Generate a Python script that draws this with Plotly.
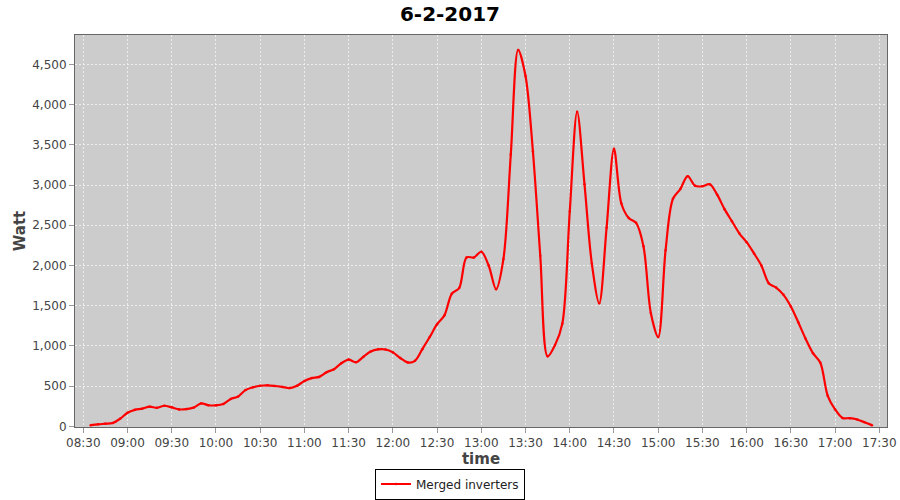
import plotly.graph_objects as go

DATE = "2017-02-06"
times = [
    "08:35", "08:40", "08:45", "08:50", "08:55", "09:00", "09:05", "09:10", "09:15", "09:20",
    "09:25", "09:30", "09:35", "09:40", "09:45", "09:50", "09:55", "10:00", "10:05", "10:10",
    "10:15", "10:20", "10:25", "10:30", "10:35", "10:40", "10:45", "10:50", "10:55", "11:00",
    "11:05", "11:10", "11:15", "11:20", "11:25", "11:30", "11:35", "11:40", "11:45", "11:50",
    "11:55", "12:00", "12:05", "12:10", "12:15", "12:20", "12:25", "12:30", "12:35", "12:40",
    "12:45", "12:50", "12:55", "13:00", "13:05", "13:10", "13:15", "13:20", "13:25", "13:30",
    "13:35", "13:40", "13:45", "13:50", "13:55", "14:00", "14:05", "14:10", "14:15", "14:20",
    "14:25", "14:30", "14:35", "14:40", "14:45", "14:50", "14:55", "15:00", "15:05", "15:10",
    "15:15", "15:20", "15:25", "15:30", "15:35", "15:40", "15:45", "15:50", "15:55", "16:00",
    "16:05", "16:10", "16:15", "16:20", "16:25", "16:30", "16:35", "16:40", "16:45", "16:50",
    "16:55", "17:00", "17:05", "17:10", "17:15", "17:20", "17:25",
]
watt = [
    15, 25, 33, 42, 95, 170, 205, 220, 245, 231,
    256, 236, 211, 215, 235, 285, 262, 261, 278, 340,
    370, 451, 485, 505, 510, 502, 490, 476, 505, 565,
    600, 615, 673, 710, 785, 830, 797, 865, 930, 957,
    955, 920, 850, 795, 815, 960, 1110, 1270, 1380, 1650,
    1720, 2100, 2100, 2170, 2000, 1705, 2080, 3380, 4680, 4355,
    3420, 2120, 870, 1010, 1280, 2670, 3910, 3010, 2020, 1530,
    2470, 3450, 2770, 2590, 2530, 2240, 1410, 1110, 2190, 2830,
    2950, 3110, 2990, 2985, 3010, 2880, 2700, 2550, 2400, 2290,
    2150, 2000, 1780, 1725, 1635, 1490, 1295, 1090, 910, 790,
    380, 210, 105, 102, 85, 50, 15,
]
series_name = "Merged inverters"
chart_title = "6-2-2017"
x_title = "time"
y_title = "Watt"

x = [f"{DATE} {t}" for t in times]

fig = go.Figure()
fig.add_trace(go.Scatter(
    x=x, y=watt, name=series_name, mode="lines+markers",
    line=dict(color="#FF0000", width=2.2, shape="spline", smoothing=0.9),
    marker=dict(color="#FF0000", size=2.5),
))

font = "DejaVu Sans, Verdana, sans-serif"
fig.update_layout(
    width=900, height=500,
    margin=dict(l=75, r=13, t=35, b=73, autoexpand=False),
    paper_bgcolor="white", plot_bgcolor="#CCCCCC",
    title=dict(text=chart_title, x=0.5, xref="container", xanchor="center",
               y=0.972, yref="container", yanchor="middle",
               font=dict(family=font, size=20, color="black", weight="bold")),
    showlegend=True,
    legend=dict(orientation="h", x=0.5, xref="container", xanchor="center",
                y=0.032, yref="container", yanchor="middle",
                bordercolor="black", borderwidth=1, bgcolor="white",
                font=dict(family=font, size=12, color="#222222"),
                itemwidth=30, tracegroupgap=0),
    font=dict(family=font, size=12, color="#444444"),
)
fig.update_xaxes(
    type="date", automargin=False,
    range=[f"{DATE} 08:24:22", f"{DATE} 17:35:13"],
    tickformat="%H:%M", dtick=1800000, tick0=f"{DATE} 08:30",
    showgrid=True, gridcolor="#EEEEEE", griddash="2px,2px", gridwidth=1,
    showline=True, linecolor="#666666", linewidth=1, mirror=True,
    ticks="outside", ticklen=5, tickcolor="#999999",
    tickfont=dict(family=font, size=12, color="#444444"),
    title=dict(text=x_title, font=dict(family=font, size=15, color="#444444", weight="bold"), standoff=6),
    zeroline=False,
)
fig.update_yaxes(
    automargin=False,
    range=[-8, 4865], dtick=500, tick0=0, tickformat=",",
    showgrid=True, gridcolor="#EEEEEE", griddash="2px,2px", gridwidth=1,
    showline=True, linecolor="#666666", linewidth=1, mirror=True,
    ticks="outside", ticklen=5, tickcolor="#999999",
    tickfont=dict(family=font, size=12, color="#444444"),
    title=dict(text=y_title, font=dict(family=font, size=15, color="#444444", weight="bold"), standoff=2),
    zeroline=False,
)

fig.write_html("out.html", config={"displayModeBar": False},
               post_script="document.body.style.margin='0';")
